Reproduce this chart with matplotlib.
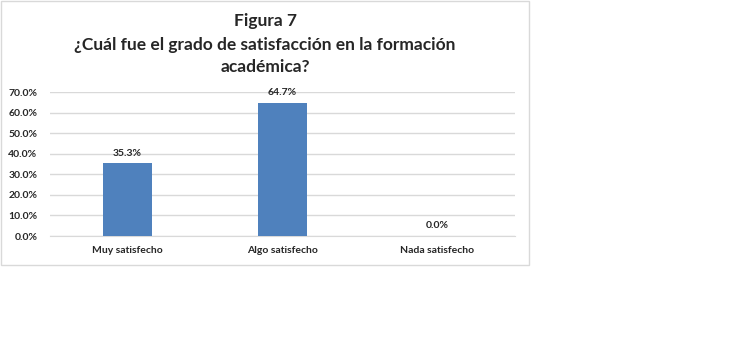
import matplotlib
matplotlib.use("Agg")
import matplotlib.pyplot as plt
from matplotlib.patches import Rectangle
from matplotlib.ticker import FuncFormatter

categories = ["Muy satisfecho", "Algo satisfecho", "Nada satisfecho"]
values = [35.3, 64.7, 0.0]
yticks = [0, 10, 20, 30, 40, 50, 60, 70]
title_lines = ["Figura 7", "¿Cuál fue el grado de satisfacción en la formación", "académica?"]

W, H = 730, 347
fig = plt.figure(figsize=(W / 100, H / 100), dpi=100)
fig.patch.set_facecolor("white")

# outer chart border
fig.patches.append(Rectangle((1 / W, 1 - 265 / H), 528 / W, 264 / H, transform=fig.transFigure,
                             fill=False, edgecolor="#d9d9d9", linewidth=1.0))

ax = fig.add_axes([50 / W, 1 - 236 / H, 465 / W, 144 / H])
x = list(range(len(categories)))
ax.bar(x, values, width=0.31, color="#4f81bd", zorder=3)
ax.set_xlim(-0.5, 2.5)
ax.set_ylim(0, 70)
ax.set_yticks(yticks)
ax.yaxis.set_major_formatter(FuncFormatter(lambda v, p: f"{v:.1f}%"))
ax.set_xticks(x)
ax.set_xticklabels(categories)
ax.grid(axis="y", color="#d9d9d9", linewidth=1.0, zorder=0)
for s in ["top", "right", "left"]:
    ax.spines[s].set_visible(False)
ax.spines["bottom"].set_color("#d9d9d9")
ax.tick_params(axis="both", length=0, labelsize=7.5, labelcolor="#262626")
ax.tick_params(axis="x", pad=7)
ax.tick_params(axis="y", pad=9)
for lab in ax.get_xticklabels() + ax.get_yticklabels():
    lab.set_fontweight("bold")
    lab.set_family("Lato")

for xi, v in zip(x, values):
    ax.annotate(f"{v:.1f}%", (xi, v), xytext=(0, 4), textcoords="offset points",
                ha="center", va="bottom", fontsize=7.5, fontweight="bold", color="#262626", family="Lato")

ys = [21, 45, 67]
for t, yy in zip(title_lines, ys):
    fig.text(265 / W, 1 - yy / H, t, ha="center", va="center", fontsize=12.5, fontweight="bold",
             color="#262626", family="Lato")

fig.savefig("out.png", dpi=100, facecolor="white")
